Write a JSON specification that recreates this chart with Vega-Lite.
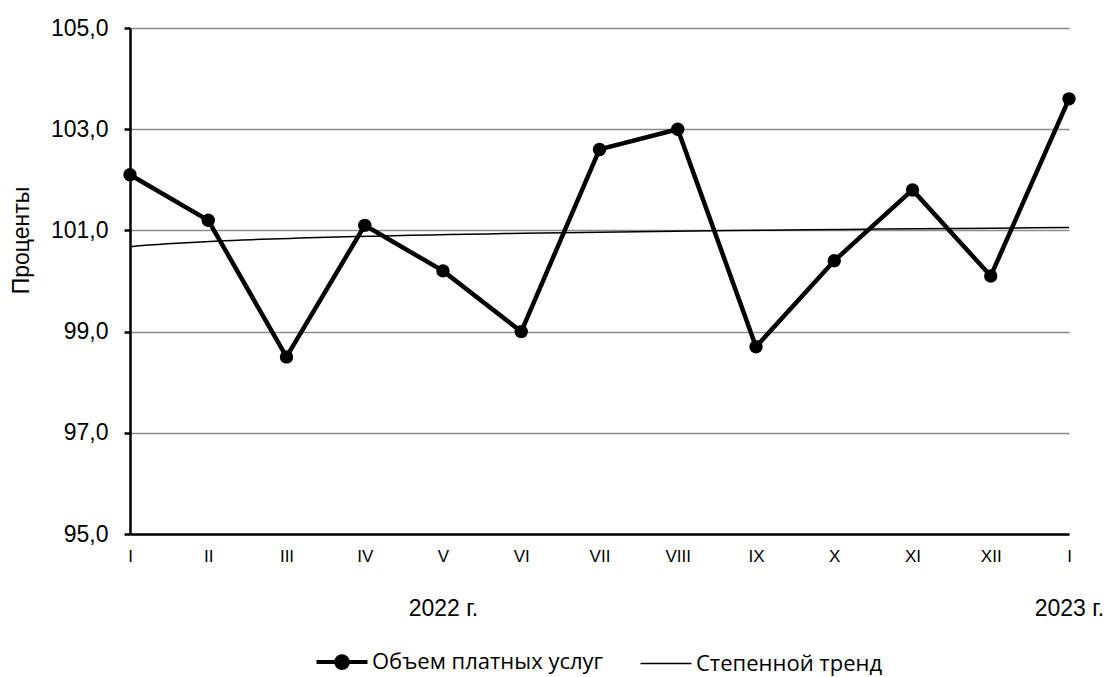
{
  "$schema": "https://vega.github.io/schema/vega-lite/v6.json",
  "width": 939,
  "height": 506,
  "autosize": {"type": "none"},
  "padding": {"left": 130, "top": 28, "right": 46, "bottom": 143},
  "background": "white",
  "config": {
    "view": {"stroke": null},
    "font": "Liberation Sans",
    "axis": {"labelFont": "Liberation Sans", "titleFont": "Liberation Sans", "labelColor": "black", "titleColor": "black"}
  },
  "data": {
    "values": [
      {"idx": 1, "value": 102.1},
      {"idx": 2, "value": 101.2},
      {"idx": 3, "value": 98.5},
      {"idx": 4, "value": 101.1},
      {"idx": 5, "value": 100.2},
      {"idx": 6, "value": 99.0},
      {"idx": 7, "value": 102.6},
      {"idx": 8, "value": 103.0},
      {"idx": 9, "value": 98.7},
      {"idx": 10, "value": 100.4},
      {"idx": 11, "value": 101.8},
      {"idx": 12, "value": 100.1},
      {"idx": 13, "value": 103.6}
    ]
  },
  "resolve": {"axis": {"x": "independent"}},
  "layer": [
    {
      "transform": [{"regression": "value", "on": "idx", "method": "pow"}],
      "mark": {"type": "line", "strokeWidth": 1.5, "clip": true},
      "encoding": {
        "x": {
          "field": "idx", "type": "quantitative",
          "scale": {"domain": [1, 13], "nice": false, "zero": false},
          "axis": {
            "orient": "bottom", "values": [5, 13], "title": null, "domain": false, "ticks": false, "grid": false,
            "labelExpr": "datum.value == 5 ? '2022 г.' : '2023 г.'",
            "labelFontSize": 23, "labelPadding": 63, "labelFlush": false, "labelOverlap": false
          }
        },
        "y": {"field": "value", "type": "quantitative", "scale": {"domain": [95, 105], "nice": false, "zero": false}},
        "color": {"datum": "Степенной тренд"}
      }
    },
    {
      "mark": {"type": "line", "strokeWidth": 4.5, "point": {"filled": true, "size": 180, "opacity": 1}},
      "encoding": {
        "x": {
          "field": "idx", "type": "quantitative",
          "scale": {"domain": [1, 13], "nice": false, "zero": false},
          "axis": {
            "orient": "bottom", "values": [1, 2, 3, 4, 5, 6, 7, 8, 9, 10, 11, 12, 13], "title": null,
            "domainColor": "black", "domainWidth": 2.5, "ticks": false, "grid": false,
            "labelExpr": "['I','II','III','IV','V','VI','VII','VIII','IX','X','XI','XII','I'][datum.value - 1]",
            "labelFontSize": 17, "labelPadding": 14, "labelFlush": false, "labelOverlap": false
          }
        },
        "y": {
          "field": "value", "type": "quantitative",
          "scale": {"domain": [95, 105], "nice": false, "zero": false},
          "axis": {
            "values": [95, 97, 99, 101, 103, 105],
            "labelExpr": "replace(format(datum.value, '.1f'), '.', ',')",
            "labelFontSize": 23, "labelPadding": 16,
            "domainColor": "black", "domainWidth": 2.5,
            "tickColor": "black", "tickSize": 6, "tickWidth": 2.5,
            "grid": true, "gridColor": "#8c8c8c", "gridWidth": 1.5,
            "title": "Проценты", "titleFontSize": 23, "titleFontWeight": "normal",
            "titleX": -97, "titleY": 212
          }
        },
        "color": {
          "datum": "Объем платных услуг",
          "scale": {"domain": ["Объем платных услуг", "Степенной тренд"], "range": ["black", "black"]},
          "legend": {
            "title": null, "orient": "none", "direction": "horizontal",
            "legendX": 201, "legendY": 623,
            "labelFont": "Open Sans", "labelFontSize": 22, "labelColor": "black", "labelLimit": 0,
            "symbolSize": 2600, "labelOffset": 19, "columnPadding": 33,
            "encode": {
              "symbols": {
                "update": {
                  "shape": {"signal": "datum.label == 'Степенной тренд' ? 'stroke' : 'M-1,0H1M-0.23,0A0.23,0.23,0,1,1,0.23,0A0.23,0.23,0,1,1,-0.23,0Z'"},
                  "strokeWidth": {"signal": "datum.label == 'Степенной тренд' ? 1.5 : 4"},
                  "fill": {"value": "black"},
                  "stroke": {"value": "black"},
                  "opacity": {"value": 1}
                }
              }
            }
          }
        }
      }
    }
  ]
}
